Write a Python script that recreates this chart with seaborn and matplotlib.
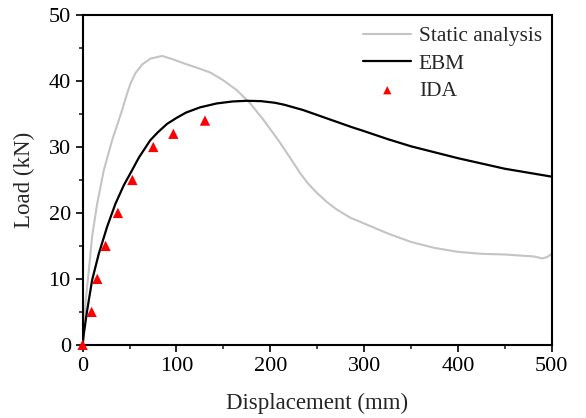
import matplotlib
matplotlib.use("Agg")
import matplotlib.pyplot as plt
import seaborn as sns
import pandas as pd
from matplotlib.ticker import MultipleLocator

static_x = [0, 1.3, 3, 6.6, 10.1, 15.5, 22.6, 31.4, 42.1, 47.4, 51, 56.3, 63.4, 72.3, 84.8,
            96, 107.5, 122, 135.9, 150, 164.4, 178.7, 192.8, 208.7, 220, 232, 240, 250, 260,
            270, 285, 300, 325, 350, 375, 400, 425, 450, 481, 490, 495, 500]
static_y = [0, 2.7, 6.3, 11.3, 16.4, 21.4, 26.5, 31.0, 35.6, 38.1, 39.6, 41.2, 42.5, 43.4,
            43.8, 43.3, 42.7, 42.0, 41.3, 40.1, 38.6, 36.6, 34.1, 31.0, 28.6, 26.0, 24.5,
            23.0, 21.7, 20.6, 19.3, 18.4, 16.9, 15.6, 14.7, 14.1, 13.8, 13.7, 13.4, 13.1,
            13.3, 13.8]

ebm_x = [0, 1.3, 4.8, 10.1, 17.2, 26.1, 35, 43.9, 52.8, 60, 72, 80, 90, 100, 110, 125, 143,
         160, 175, 190, 205, 215, 225, 235, 245, 255, 265, 275, 287, 300, 325, 350, 375, 400,
         425, 450, 475, 500]
ebm_y = [0, 1.7, 5.2, 9.8, 13.8, 17.9, 21.4, 24.2, 26.5, 28.4, 31.0, 32.2, 33.5, 34.4,
         35.2, 36.0, 36.6, 36.9, 37.0, 36.95, 36.7, 36.4, 36.0, 35.6, 35.1, 34.6, 34.1,
         33.6, 33.0, 32.4, 31.2, 30.1, 29.2, 28.3, 27.5, 26.7, 26.1, 25.5]

ida_x = [0, 9.6, 15.6, 24.5, 37.6, 53, 75.3, 96.7, 130.4]
ida_y = [0, 5, 10, 15, 20, 25, 30, 32, 34]

sns.set_style("ticks")
plt.rcParams["font.family"] = ["Liberation Serif", "DejaVu Serif"]

fig = plt.figure(figsize=(5.86, 4.18), dpi=100)
ax = fig.add_axes([0.141, 0.175, 0.8005, 0.789])

df_s = pd.DataFrame({"x": static_x, "y": static_y})
df_e = pd.DataFrame({"x": ebm_x, "y": ebm_y})
df_i = pd.DataFrame({"x": ida_x, "y": ida_y})

sns.lineplot(data=df_s, x="x", y="y", ax=ax, color="#c4c4c4", lw=1.5,
             sort=False, estimator=None, label="Static analysis")
sns.lineplot(data=df_e, x="x", y="y", ax=ax, color="black", lw=1.6,
             sort=False, estimator=None, label="EBM")
sns.scatterplot(data=df_i, x="x", y="y", ax=ax, color="red", marker="^", s=55,
                edgecolor="none", label="IDA", zorder=5, clip_on=False)

ax.set_xlim(0, 500)
ax.set_ylim(0, 50)
ax.xaxis.set_major_locator(MultipleLocator(100))
ax.xaxis.set_minor_locator(MultipleLocator(50))
ax.yaxis.set_major_locator(MultipleLocator(10))
ax.yaxis.set_minor_locator(MultipleLocator(5))
ax.tick_params(which="major", direction="out", length=5, width=1.2, labelsize=16,
               colors="black", top=False, right=False)
ax.tick_params(which="minor", direction="out", length=3, width=1.2, top=False, right=False)
for sp in ax.spines.values():
    sp.set_linewidth(1.5)
    sp.set_color("black")
    sp.set_visible(True)

ax.set_xlabel("Displacement (mm)", fontsize=16.5, labelpad=12.5)
ax.set_ylabel("Load (kN)", fontsize=16.5, labelpad=10)

handles, labels = ax.get_legend_handles_labels()
leg = ax.legend(handles, labels, loc="upper right", bbox_to_anchor=(1.02, 1.024),
                frameon=False, fontsize=15.4, handlelength=2.26, handletextpad=0.34,
                labelspacing=0.34, markerscale=0.8)

fig.savefig("out.png", dpi=100)
